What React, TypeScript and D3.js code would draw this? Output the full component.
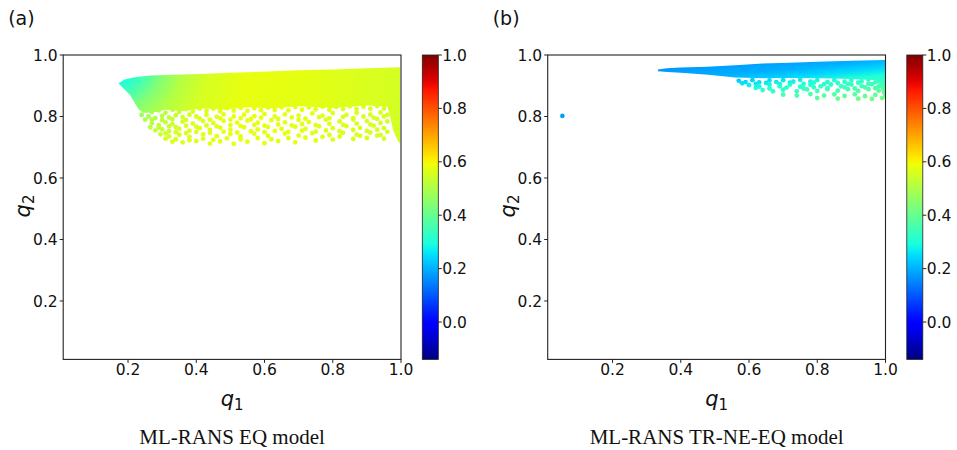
import React from "react";
import * as d3 from "d3";

// ---------- data ----------
const Q_DOMAIN: [number, number] = [0.01, 1.0];
const C_DOMAIN: [number, number] = [-0.14, 1.0];
const AXIS_TICKS = [0.2, 0.4, 0.6, 0.8, 1.0];
const CBAR_TICKS = [0.0, 0.2, 0.4, 0.6, 0.8, 1.0];

// Panel (a): dense region (q1, q2) outline
const A_TOP: [number, number][] = [
  [0.172, 0.908], [0.19, 0.92], [0.215, 0.927], [0.264, 0.933], [0.33, 0.936],
  [0.411, 0.938], [0.5, 0.942], [0.606, 0.946], [0.7, 0.95], [0.801, 0.953],
  [0.9, 0.957], [0.997, 0.96],
];
const A_BOTTOM: [number, number][] = [
  [0.997, 0.712], [0.99, 0.722], [0.977, 0.755], [0.968, 0.8], [0.96, 0.832],
  [0.9, 0.836], [0.8, 0.828], [0.7, 0.833], [0.62, 0.826], [0.55, 0.83],
  [0.48, 0.822], [0.42, 0.826], [0.36, 0.818], [0.31, 0.822], [0.27, 0.812],
  [0.245, 0.812], [0.232, 0.822], [0.22, 0.843], [0.206, 0.87],
  [0.186, 0.892], [0.172, 0.908],
];
const A_DOTS: [number, number][] = [
  [0.27, 0.815], [0.29, 0.82], [0.31, 0.812], [0.33, 0.822], [0.35, 0.815], [0.37, 0.824],
  [0.39, 0.816], [0.41, 0.826], [0.43, 0.818], [0.45, 0.826], [0.47, 0.817], [0.49, 0.827],
  [0.51, 0.819], [0.53, 0.828], [0.55, 0.818], [0.57, 0.827], [0.59, 0.82], [0.61, 0.829],
  [0.63, 0.821], [0.65, 0.83], [0.67, 0.82], [0.69, 0.831], [0.71, 0.822], [0.73, 0.83],
  [0.75, 0.823], [0.77, 0.832], [0.79, 0.822], [0.81, 0.831], [0.83, 0.824], [0.85, 0.833],
  [0.87, 0.824], [0.89, 0.832], [0.91, 0.825], [0.93, 0.834], [0.95, 0.826],
  [0.26, 0.8], [0.28, 0.795], [0.3, 0.802], [0.32, 0.797], [0.34, 0.804], [0.36, 0.798],
  [0.38, 0.806], [0.4, 0.8], [0.43, 0.805], [0.46, 0.799], [0.48, 0.807], [0.51, 0.8],
  [0.54, 0.806], [0.57, 0.801], [0.6, 0.808], [0.63, 0.8], [0.66, 0.807], [0.7, 0.803],
  [0.74, 0.81], [0.77, 0.803], [0.8, 0.811], [0.84, 0.805], [0.87, 0.812], [0.91, 0.806],
  [0.94, 0.813], [0.96, 0.805],
  [0.27, 0.79], [0.3, 0.788], [0.33, 0.791], [0.37, 0.789], [0.41, 0.793], [0.44, 0.79],
  [0.47, 0.794], [0.5, 0.79], [0.53, 0.795], [0.56, 0.791], [0.59, 0.796], [0.64, 0.792],
  [0.68, 0.797], [0.72, 0.793], [0.76, 0.798], [0.79, 0.794], [0.83, 0.799], [0.86, 0.795],
  [0.89, 0.8], [0.92, 0.796], [0.95, 0.8],
  [0.27, 0.778], [0.29, 0.772], [0.31, 0.781], [0.33, 0.775], [0.36, 0.783], [0.39, 0.777],
  [0.42, 0.785], [0.45, 0.779], [0.48, 0.786], [0.52, 0.78], [0.55, 0.787], [0.58, 0.78],
  [0.62, 0.788], [0.66, 0.781], [0.7, 0.789], [0.73, 0.782], [0.78, 0.79], [0.82, 0.784],
  [0.86, 0.79], [0.9, 0.785], [0.93, 0.792], [0.96, 0.784],
  [0.29, 0.764], [0.32, 0.768], [0.34, 0.765], [0.37, 0.77], [0.4, 0.767], [0.43, 0.771],
  [0.46, 0.768], [0.5, 0.772], [0.53, 0.769], [0.57, 0.773], [0.6, 0.77], [0.64, 0.774],
  [0.68, 0.771], [0.71, 0.775], [0.75, 0.772], [0.79, 0.776], [0.83, 0.773], [0.87, 0.777],
  [0.91, 0.774], [0.94, 0.779],
  [0.3, 0.758], [0.32, 0.752], [0.35, 0.76], [0.38, 0.754], [0.41, 0.762], [0.44, 0.756],
  [0.47, 0.764], [0.5, 0.757], [0.54, 0.765], [0.58, 0.758], [0.61, 0.766], [0.65, 0.76],
  [0.69, 0.767], [0.72, 0.76], [0.76, 0.768], [0.8, 0.762], [0.84, 0.769], [0.88, 0.763],
  [0.92, 0.77], [0.95, 0.762],
  [0.31, 0.745], [0.34, 0.749], [0.37, 0.746], [0.4, 0.75], [0.44, 0.747], [0.48, 0.751],
  [0.52, 0.748], [0.56, 0.752], [0.6, 0.749], [0.63, 0.753], [0.67, 0.75], [0.71, 0.754],
  [0.75, 0.751], [0.78, 0.755], [0.82, 0.752], [0.86, 0.756], [0.9, 0.753], [0.93, 0.757],
  [0.96, 0.75],
  [0.32, 0.735], [0.35, 0.741], [0.38, 0.734], [0.42, 0.742], [0.46, 0.736], [0.5, 0.743],
  [0.53, 0.735], [0.57, 0.744], [0.61, 0.737], [0.66, 0.745], [0.7, 0.738], [0.74, 0.746],
  [0.79, 0.74], [0.83, 0.747], [0.87, 0.741], [0.91, 0.748], [0.94, 0.74],
  [0.34, 0.726], [0.38, 0.723], [0.42, 0.728], [0.45, 0.724], [0.49, 0.729], [0.53, 0.725],
  [0.58, 0.73], [0.62, 0.726], [0.67, 0.73], [0.72, 0.731], [0.77, 0.734], [0.82, 0.735],
  [0.88, 0.737], [0.93, 0.738],
  [0.36, 0.716], [0.4, 0.72], [0.44, 0.712], [0.47, 0.719], [0.51, 0.711], [0.55, 0.718],
  [0.6, 0.713], [0.64, 0.72], [0.69, 0.716], [0.75, 0.722], [0.8, 0.725], [0.86, 0.727],
  [0.9, 0.73], [0.95, 0.728],
  [0.24, 0.805], [0.25, 0.79], [0.265, 0.765], [0.28, 0.755], [0.295, 0.742], [0.31, 0.728],
  [0.33, 0.718],
];
// colour value by distance (px) from a centre just above-left of the tip of region (a)
const A_CENTRE: [number, number] = [0.145, 0.99];
const A_COLOUR: [number, number][] = [
  [0, 0.28], [27, 0.3], [40, 0.36], [55, 0.44], [75, 0.51], [100, 0.555], [140, 0.58],
  [200, 0.575], [260, 0.56], [310, 0.55],
];

// Panel (b)
const B_TOP: [number, number][] = [
  [0.333, 0.953], [0.36, 0.957], [0.4, 0.959], [0.477, 0.962], [0.56, 0.967],
  [0.64, 0.972], [0.72, 0.975], [0.8, 0.978], [0.9, 0.981], [0.999, 0.984],
];
const B_BOTTOM: [number, number][] = [
  [0.999, 0.855], [0.99, 0.875], [0.98, 0.918], [0.9, 0.922], [0.8, 0.924],
  [0.72, 0.925], [0.64, 0.924], [0.56, 0.927], [0.48, 0.936], [0.4, 0.942],
  [0.36, 0.945], [0.333, 0.947],
];
const B_DOTS: [number, number][] = [
  [0.57, 0.916], [0.59, 0.912], [0.61, 0.918], [0.63, 0.911], [0.66, 0.917], [0.68, 0.912],
  [0.7, 0.918], [0.73, 0.913], [0.75, 0.919], [0.78, 0.913], [0.8, 0.918], [0.83, 0.912],
  [0.85, 0.918], [0.88, 0.913], [0.9, 0.919], [0.93, 0.914], [0.95, 0.92], [0.98, 0.914],
  [0.58, 0.908], [0.62, 0.906], [0.65, 0.909], [0.69, 0.905], [0.72, 0.91], [0.76, 0.906],
  [0.79, 0.91], [0.82, 0.905], [0.86, 0.909], [0.89, 0.906], [0.92, 0.91], [0.95, 0.906],
  [0.97, 0.911],
  [0.6, 0.902], [0.63, 0.897], [0.66, 0.903], [0.69, 0.898], [0.72, 0.904], [0.75, 0.897],
  [0.78, 0.903], [0.81, 0.898], [0.84, 0.904], [0.87, 0.898], [0.9, 0.904], [0.93, 0.899],
  [0.96, 0.905], [0.98, 0.898],
  [0.62, 0.893], [0.66, 0.891], [0.71, 0.894], [0.76, 0.891], [0.79, 0.895], [0.83, 0.892],
  [0.88, 0.895], [0.91, 0.891], [0.94, 0.895], [0.97, 0.892],
  [0.64, 0.886], [0.67, 0.882], [0.7, 0.887], [0.74, 0.882], [0.77, 0.888], [0.8, 0.883],
  [0.83, 0.889], [0.86, 0.884], [0.89, 0.889], [0.92, 0.883], [0.95, 0.889], [0.98, 0.884],
  [0.7, 0.871], [0.74, 0.868], [0.78, 0.873], [0.82, 0.868], [0.85, 0.872], [0.88, 0.867],
  [0.91, 0.872], [0.94, 0.866], [0.97, 0.87],
  [0.8, 0.86], [0.86, 0.858], [0.92, 0.858], [0.96, 0.857], [0.99, 0.86],
];
const B_OUTLIER = [{ q1: 0.053, q2: 0.802, v: 0.18 }];
// colour value along a slightly tilted vertical direction (offset 0..1)
const B_COLOUR: [number, number][] = [
  [0, 0.15], [0.21, 0.17], [0.4, 0.2], [0.5, 0.24], [0.615, 0.3], [0.8, 0.37],
  [0.92, 0.41], [1, 0.42],
];

// ---------- jet colormap (matplotlib segment data) ----------
const JET_R = [[0, 0], [0.35, 0], [0.66, 1], [0.89, 1], [1, 0.5]];
const JET_G = [[0, 0], [0.125, 0], [0.375, 1], [0.64, 1], [0.91, 0], [1, 0]];
const JET_B = [[0, 0.5], [0.11, 1], [0.34, 1], [0.65, 0], [1, 0]];
function seg(p: number[][], t: number) {
  t = Math.max(0, Math.min(1, t));
  for (let i = 1; i < p.length; i++) {
    if (t <= p[i][0]) {
      const [x0, y0] = p[i - 1];
      const [x1, y1] = p[i];
      return y0 + ((t - x0) / (x1 - x0)) * (y1 - y0);
    }
  }
  return p[p.length - 1][1];
}
function jet(t: number) {
  return d3.rgb(seg(JET_R, t) * 255, seg(JET_G, t) * 255, seg(JET_B, t) * 255).formatHex();
}
const cnorm = d3.scaleLinear().domain(C_DOMAIN).range([0, 1]);
const colourOf = (v: number) => jet(cnorm(v));

// ---------- layout ----------
const TOP = 55;
const BOTTOM = 359.4;
const FONT = "DejaVu Sans, sans-serif";

type PanelProps = {
  id: string;
  left: number;
  right: number;
  tag: string;
  caption: string;
  top: [number, number][];
  bottom: [number, number][];
  dots: [number, number][];
  outliers?: { q1: number; q2: number; v: number }[];
  kind: "radial" | "linear";
  centre?: [number, number];
  stops: [number, number][];
};

function Panel(p: PanelProps) {
  const xs = d3.scaleLinear().domain(Q_DOMAIN).range([p.left, p.right]);
  const ys = d3.scaleLinear().domain(Q_DOMAIN).range([BOTTOM, TOP]);
  const poly = d3.line<[number, number]>().x((d) => xs(d[0])).y((d) => ys(d[1]));
  const path = poly([...p.top, ...p.bottom]) + "Z";
  const cx = (p.left + p.right) / 2;
  const cbL = p.right + 21.3;
  const cbW = 16;
  const cs = d3.scaleLinear().domain(C_DOMAIN).range([BOTTOM, TOP]);
  const gid = `grad-${p.id}`;
  const cbid = `cbar-${p.id}`;
  const clipId = `clip-${p.id}`;

  let grad: React.ReactNode;
  if (p.kind === "radial") {
    const c = p.centre || p.top[0];
    const tx = xs(c[0]);
    const ty = ys(c[1]);
    const R = p.stops[p.stops.length - 1][0];
    grad = (
      <radialGradient id={gid} gradientUnits="userSpaceOnUse" cx={tx} cy={ty} r={R} fx={tx} fy={ty}>
        {p.stops.map(([d, v], i) => (
          <stop key={i} offset={d / R} stopColor={colourOf(v)} />
        ))}
      </radialGradient>
    );
  } else {
    const x1 = xs(0.33) - 7;
    const y1 = TOP;
    grad = (
      <linearGradient id={gid} gradientUnits="userSpaceOnUse" x1={x1} y1={y1} x2={x1 + 7} y2={y1 + 70}>
        {p.stops.map(([o, v], i) => (
          <stop key={i} offset={o} stopColor={colourOf(v)} />
        ))}
      </linearGradient>
    );
  }
  const cbStops = d3.range(0, 1.0001, 0.02);

  return (
    <g>
      <defs>
        {grad}
        <linearGradient id={cbid} x1="0" y1="1" x2="0" y2="0">
          {cbStops.map((t, i) => (
            <stop key={i} offset={t} stopColor={jet(t)} />
          ))}
        </linearGradient>
        <clipPath id={clipId}>
          <rect x={p.left} y={TOP} width={p.right - p.left} height={BOTTOM - TOP} />
        </clipPath>
      </defs>
      <g clipPath={`url(#${clipId})`}>
        <path d={path} fill={`url(#${gid})`} />
        <g fill={`url(#${gid})`}>
          {p.dots.map((d, i) => (
            <circle key={i} cx={xs(d[0])} cy={ys(d[1])} r={2.4} />
          ))}
        </g>
        {(p.outliers || []).map((o, i) => (
          <circle key={i} cx={xs(o.q1)} cy={ys(o.q2)} r={2.3} fill={colourOf(o.v)} />
        ))}
      </g>
      {/* axes frame */}
      <rect x={p.left} y={TOP} width={p.right - p.left} height={BOTTOM - TOP} fill="none" stroke="#222" strokeWidth={1.1} />
      {AXIS_TICKS.map((t) => (
        <g key={"y" + t}>
          <line x1={p.left - 3.5} x2={p.left} y1={ys(t)} y2={ys(t)} stroke="#222" strokeWidth={1} />
          <text x={p.left - 5.5} y={ys(t)} dy="0.36em" textAnchor="end" fontSize={15.5} fontFamily={FONT} fill="#111">
            {t.toFixed(1)}
          </text>
        </g>
      ))}
      {AXIS_TICKS.map((t) => (
        <g key={"x" + t}>
          <line x1={xs(t)} x2={xs(t)} y1={BOTTOM} y2={BOTTOM + 3.5} stroke="#222" strokeWidth={1} />
          <text x={xs(t)} y={BOTTOM + 15.5} textAnchor="middle" fontSize={15.5} fontFamily={FONT} fill="#111">
            {t.toFixed(1)}
          </text>
        </g>
      ))}
      {/* axis labels */}
      <text x={cx} y={406} textAnchor="middle" fontFamily={FONT} fill="#111">
        <tspan fontSize={21} fontStyle="italic">q</tspan>
        <tspan fontSize={15} dy={4}>1</tspan>
      </text>
      <text transform={`translate(${p.left - 33},206) rotate(-90)`} textAnchor="middle" fontFamily={FONT} fill="#111">
        <tspan fontSize={21} fontStyle="italic">q</tspan>
        <tspan fontSize={15} dy={4}>2</tspan>
      </text>
      {/* panel tag */}
      <text x={p.left - 55} y={25} fontSize={19} fontFamily={FONT} fill="#111">{p.tag}</text>
      {/* caption */}
      <text x={cx} y={444} textAnchor="middle" fontSize={21} fontFamily="Liberation Serif, Times New Roman, serif" fill="#111">
        {p.caption}
      </text>
      {/* colorbar */}
      <rect x={cbL} y={TOP} width={cbW} height={BOTTOM - TOP} fill={`url(#${cbid})`} stroke="#222" strokeWidth={0.8} />
      {CBAR_TICKS.map((t) => (
        <g key={"c" + t}>
          <line x1={cbL + cbW} x2={cbL + cbW + 3.5} y1={cs(t)} y2={cs(t)} stroke="#222" strokeWidth={1} />
          <text x={cbL + cbW + 4} y={cs(t)} dy="0.36em" fontSize={15.5} fontFamily={FONT} fill="#111">
            {t.toFixed(1)}
          </text>
        </g>
      ))}
    </g>
  );
}

export default function App() {
  return (
    <div style={{ position: "fixed", left: 0, top: 0 }}>
      <svg width={957} height={450} viewBox="0 0 957 450" style={{ display: "block", background: "#fff" }}>
        <Panel
          id="a"
          left={63.2}
          right={401}
          tag="(a)"
          caption="ML-RANS EQ model"
          top={A_TOP}
          bottom={A_BOTTOM}
          dots={A_DOTS}
          kind="radial"
          centre={A_CENTRE}
          stops={A_COLOUR}
        />
        <Panel
          id="b"
          left={547.7}
          right={885.5}
          tag="(b)"
          caption="ML-RANS TR-NE-EQ model"
          top={B_TOP}
          bottom={B_BOTTOM}
          dots={B_DOTS}
          outliers={B_OUTLIER}
          kind="linear"
          stops={B_COLOUR}
        />
      </svg>
    </div>
  );
}
